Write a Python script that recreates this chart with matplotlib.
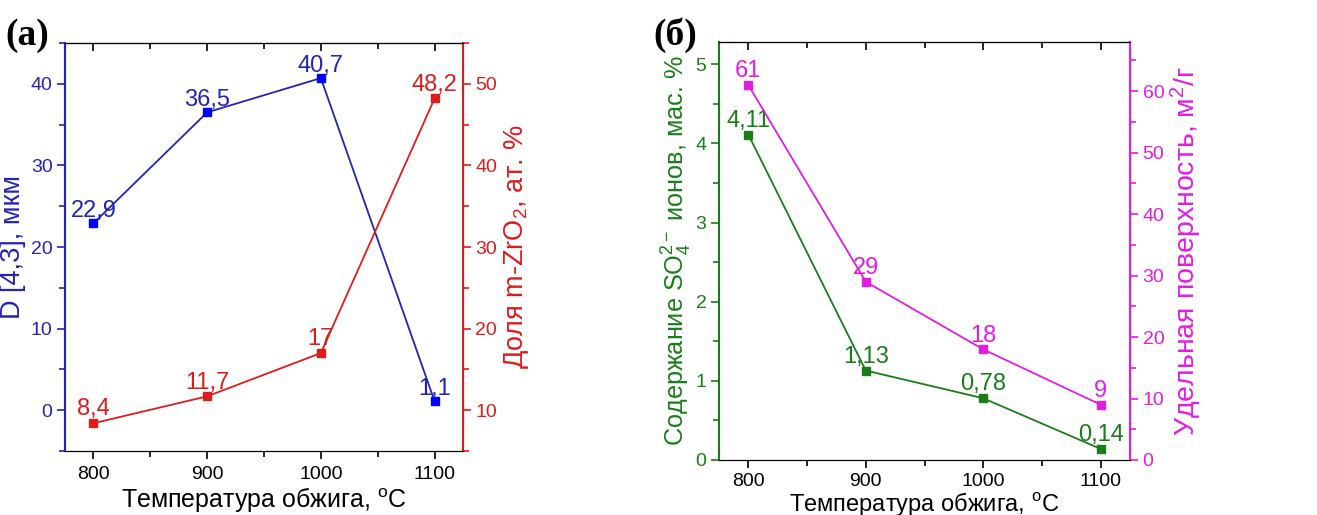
import matplotlib.pyplot as plt
from matplotlib.ticker import MultipleLocator

plt.rcParams['font.family'] = ['Liberation Sans', 'DejaVu Sans']
plt.rcParams['mathtext.fontset'] = 'custom'
plt.rcParams['mathtext.rm'] = 'Liberation Sans'
plt.rcParams['mathtext.it'] = 'Liberation Sans'

temps = [800, 900, 1000, 1100]

# panel (a)
d43 = [22.9, 36.5, 40.7, 1.1]
d43_labels = ['22,9', '36,5', '40,7', '1,1']
mzro2 = [8.4, 11.7, 17, 48.2]
mzro2_labels = ['8,4', '11,7', '17', '48,2']

# panel (б)
so4 = [4.11, 1.13, 0.78, 0.14]
so4_labels = ['4,11', '1,13', '0,78', '0,14']
surface = [61, 29, 18, 9]
surface_labels = ['61', '29', '18', '9']

blue_ax, blue_mk = '#2424b0', '#0000ff'
red = '#dd1c1c'
green = '#1a7d1a'
magenta = '#e01ee0'

fig = plt.figure(figsize=(13.17, 5.15), dpi=100)
W, H = 1317, 515


def style_x(ax, pad, labelpad, labelsize):
    ax.set_xlim(775, 1125)
    ax.xaxis.set_major_locator(MultipleLocator(100))
    ax.xaxis.set_minor_locator(MultipleLocator(50))
    ax.tick_params(axis='x', which='both', direction='out', labelsize=14, top=False)
    ax.tick_params(axis='x', which='major', length=6, width=1.2, pad=pad)
    ax.tick_params(axis='x', which='minor', length=4, width=1.2)
    ax.set_xlabel('Температура обжига, $^{\\rm o}$C', fontsize=labelsize, labelpad=labelpad)
    # inward ticks on top spine
    top = ax.secondary_xaxis('top')
    top.xaxis.set_major_locator(MultipleLocator(100))
    top.xaxis.set_minor_locator(MultipleLocator(50))
    top.tick_params(which='both', direction='in', labeltop=False, width=1.2)
    top.tick_params(which='major', length=6)
    top.tick_params(which='minor', length=4)


def style_y(ax, color, major, minor, side):
    ax.yaxis.set_major_locator(MultipleLocator(major))
    ax.yaxis.set_minor_locator(MultipleLocator(minor))
    ax.tick_params(axis='y', which='both', colors=color, direction='out', labelsize=14, width=1.2)
    ax.tick_params(axis='y', which='major', length=6, pad=3)
    ax.tick_params(axis='y', which='minor', length=4)
    ax.spines[side].set_color(color)
    ax.spines[side].set_linewidth(1.5)


def annotate(ax, xs, ys, labels, color, dy):
    for x, y, s in zip(xs, ys, labels):
        ax.annotate(s, (x, y), xytext=(0, dy), textcoords='offset points',
                    ha='center', va='bottom', fontsize=17, color=color)


# ---- panel (a)
ax1 = fig.add_axes([65 / W, 1 - 451 / H, (463 - 65) / W, (451 - 43) / H])
ax1b = ax1.twinx()
ax1.plot(temps, d43, '-s', color=blue_ax, mfc=blue_mk, mec=blue_mk, ms=6, lw=1.3)
ax1b.plot(temps, mzro2, '-s', color=red, mfc=red, mec=red, ms=6, lw=1.3)
ax1.set_ylim(-5, 45)
ax1b.set_ylim(5, 55)
style_x(ax1, 5, 1, 18)
style_y(ax1, blue_ax, 10, 5, 'left')
style_y(ax1b, red, 10, 5, 'right')
ax1b.spines['left'].set_color(blue_ax)
ax1b.spines['left'].set_linewidth(1.5)
ax1.set_ylabel('D [4,3], мкм', fontsize=19.5, color=blue_ax, labelpad=3)
ax1b.set_ylabel('Доля m-ZrO$_2$, ат. %', fontsize=19.5, color=red, labelpad=3)
annotate(ax1, temps, d43, d43_labels, blue_ax, 1)
annotate(ax1b, temps, mzro2, mzro2_labels, red, 2)
fig.text(5 / W, 1 - 45 / H, '(a)', fontsize=27, fontweight='bold',
         family='Liberation Serif', ha='left', va='baseline')

# ---- panel (б)
ax2 = fig.add_axes([719 / W, 1 - 460 / H, (1130 - 719) / W, (460 - 42) / H])
ax2b = ax2.twinx()
ax2.plot(temps, so4, '-s', color=green, mfc=green, mec=green, ms=6, lw=1.3)
ax2b.plot(temps, surface, '-s', color=magenta, mfc=magenta, mec=magenta, ms=6, lw=1.3)
ax2.set_ylim(0, 5.28)
ax2b.set_ylim(0, 68)
style_x(ax2, 3, 0, 17)
style_y(ax2, green, 1, 0.5, 'left')
style_y(ax2b, magenta, 10, 5, 'right')
ax2b.spines['left'].set_color(green)
ax2b.spines['left'].set_linewidth(1.5)
ax2.set_ylabel('Содержание SO$_4^{2-}$ ионов, мас. %', fontsize=18.2, color=green, labelpad=1)
ax2b.set_ylabel('Удельная поверхность, м$^2$/г', fontsize=20.5, color=magenta, labelpad=3)
annotate(ax2, temps, so4, so4_labels, green, 2)
annotate(ax2b, temps, surface, surface_labels, magenta, 2)
fig.text(653 / W, 1 - 45 / H, '(б)', fontsize=27, fontweight='bold',
         family='Liberation Serif', ha='left', va='baseline')

fig.savefig('out.png', dpi=100)
